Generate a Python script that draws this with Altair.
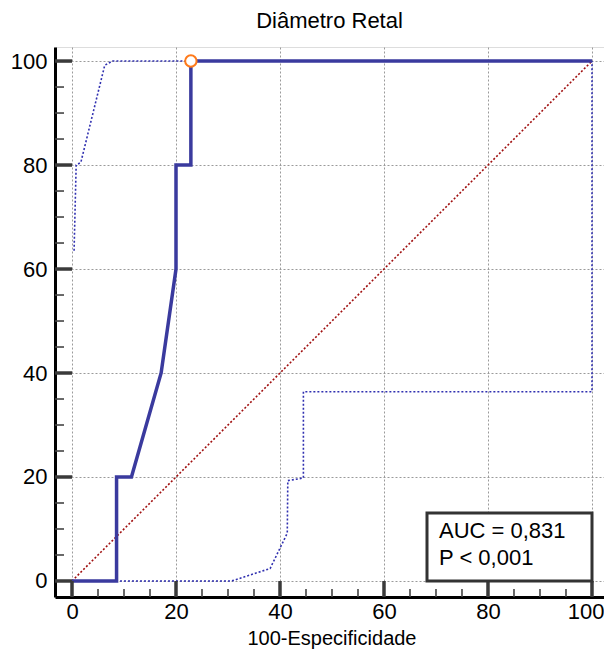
import altair as alt
import pandas as pd

# ---- data ----
roc_x = [0, 8.57, 8.57, 11.43, 17.14, 20.0, 20.0, 22.86, 22.86, 100]
roc_y = [0, 0, 20, 20, 40, 60, 80, 80, 100, 100]

upper_x = [0.4, 0.8, 1.7, 6.3, 7.8, 100]
upper_y = [63.5, 80, 80.5, 99.2, 100, 100]

lower_x = [0, 30.7, 38.1, 41.4, 41.5, 44.5, 44.5, 100, 100]
lower_y = [0, 0, 2.4, 9.2, 19.3, 19.8, 36.4, 36.4, 100]

diag_x = [0, 100]
diag_y = [0, 100]

crit_x = [22.86]
crit_y = [100]

major_ticks = [0, 20, 40, 60, 80, 100]
minor_ticks = [5, 10, 15, 25, 30, 35, 45, 50, 55, 65, 70, 75, 85, 90, 95]

title_text = "Diâmetro Retal"
x_title = "100-Especificidade"
box_lines = ["AUC = 0,831", "P < 0,001"]

FONT = "Liberation Sans"

roc = pd.DataFrame({"x": roc_x, "y": roc_y, "i": range(len(roc_x))})
upper = pd.DataFrame({"x": upper_x, "y": upper_y, "i": range(len(upper_x))})
lower = pd.DataFrame({"x": lower_x, "y": lower_y, "i": range(len(lower_x))})
diag = pd.DataFrame({"x": diag_x, "y": diag_y, "i": range(len(diag_x))})
crit = pd.DataFrame({"x": crit_x, "y": crit_y})
majors = pd.DataFrame({"v": major_ticks})
minors = pd.DataFrame({"v": minor_ticks})
box_df = pd.DataFrame({"t": box_lines, "k": range(len(box_lines))})
xtitle_df = pd.DataFrame({"t": [x_title]})

W, H = 549, 550

xs = alt.Scale(domain=[-3.27, 102.31], nice=False, zero=False)
ys = alt.Scale(domain=[-3.08, 102.7], nice=False, zero=False)

common_axis = dict(
    values=major_ticks, grid=True, gridDash=[2, 2], gridColor="#9a9a9a",
    gridWidth=1, ticks=False, domain=True, domainColor="black", domainWidth=3,
    labelFontSize=22, labelFont=FONT, labelColor="black", title=None,
)
xaxis = alt.Axis(labelPadding=4, labelFlush=15, labelFlushOffset=12, **common_axis)
yaxis = alt.Axis(labelPadding=8, **common_axis)


def X(f="x"):
    return alt.X(f"{f}:Q", scale=xs, axis=xaxis)


def Y(f="y"):
    return alt.Y(f"{f}:Q", scale=ys, axis=yaxis)


diag_l = alt.Chart(diag).mark_line(color="#a01010", strokeWidth=1.6, strokeDash=[2, 2]).encode(
    x=X(), y=Y(), order="i:Q")
upper_l = alt.Chart(upper).mark_line(color="#3030b0", strokeWidth=1.6, strokeDash=[2, 2]).encode(
    x=X(), y=Y(), order="i:Q")
lower_l = alt.Chart(lower).mark_line(color="#3030b0", strokeWidth=1.6, strokeDash=[2, 2]).encode(
    x=X(), y=Y(), order="i:Q")
roc_l = alt.Chart(roc).mark_line(color="#3a3a9e", strokeWidth=3.5, strokeJoin="miter").encode(
    x=X(), y=Y(), order="i:Q")
crit_p = alt.Chart(crit).mark_point(shape="circle", size=130, filled=True, fill="white",
                                    stroke="#ff7a1a", strokeWidth=2, opacity=1).encode(x=X(), y=Y())

ytick_major = alt.Chart(majors).mark_rule(color="#3a3a3a", strokeWidth=3.5).encode(
    y=Y("v"), x=alt.value(0), x2=alt.value(17))
ytick_minor = alt.Chart(minors).mark_rule(color="#444444", strokeWidth=1.6).encode(
    y=Y("v"), x=alt.value(0), x2=alt.value(9))
xtick_major = alt.Chart(majors).mark_rule(color="#3a3a3a", strokeWidth=3.5).encode(
    x=X("v"), y=alt.value(H), y2=alt.value(H - 16))
xtick_minor = alt.Chart(minors).mark_rule(color="#444444", strokeWidth=1.6).encode(
    x=X("v"), y=alt.value(H), y2=alt.value(H - 8))

box = alt.Chart(pd.DataFrame({"a": [0]})).mark_rect(
    fill="white", stroke="#333333", strokeWidth=3).encode(
    x=alt.value(372), x2=alt.value(537), y=alt.value(466), y2=alt.value(534))
text_kw = dict(align="left", baseline="alphabetic", font=FONT, fontSize=22, color="black")
box_t1 = alt.Chart(box_df).transform_filter("datum.k == 0").mark_text(**text_kw).encode(
    text="t:N", x=alt.value(384), y=alt.value(491))
box_t2 = alt.Chart(box_df).transform_filter("datum.k == 1").mark_text(**text_kw).encode(
    text="t:N", x=alt.value(384), y=alt.value(518))

xtitle = alt.Chart(xtitle_df).mark_text(
    align="center", baseline="alphabetic", font=FONT, fontSize=20, color="black").encode(
    text="t:N", x=alt.value(277), y=alt.value(H + 48))

chart = alt.layer(
    diag_l, lower_l, upper_l, roc_l, crit_p,
    ytick_minor, ytick_major, xtick_minor, xtick_major,
    box, box_t1, box_t2, xtitle,
).properties(
    width=W, height=H,
    title=alt.TitleParams(title_text, font=FONT, fontSize=22, fontWeight="normal",
                          color="black", anchor="middle", offset=14),
    autosize=alt.AutoSizeParams(type="none"),
    padding={"left": 47, "top": 39, "right": 0, "bottom": 53},
).configure_view(stroke=None).configure(background="white")

chart.save("out.html", embed_options={"renderer": "svg", "actions": False})
